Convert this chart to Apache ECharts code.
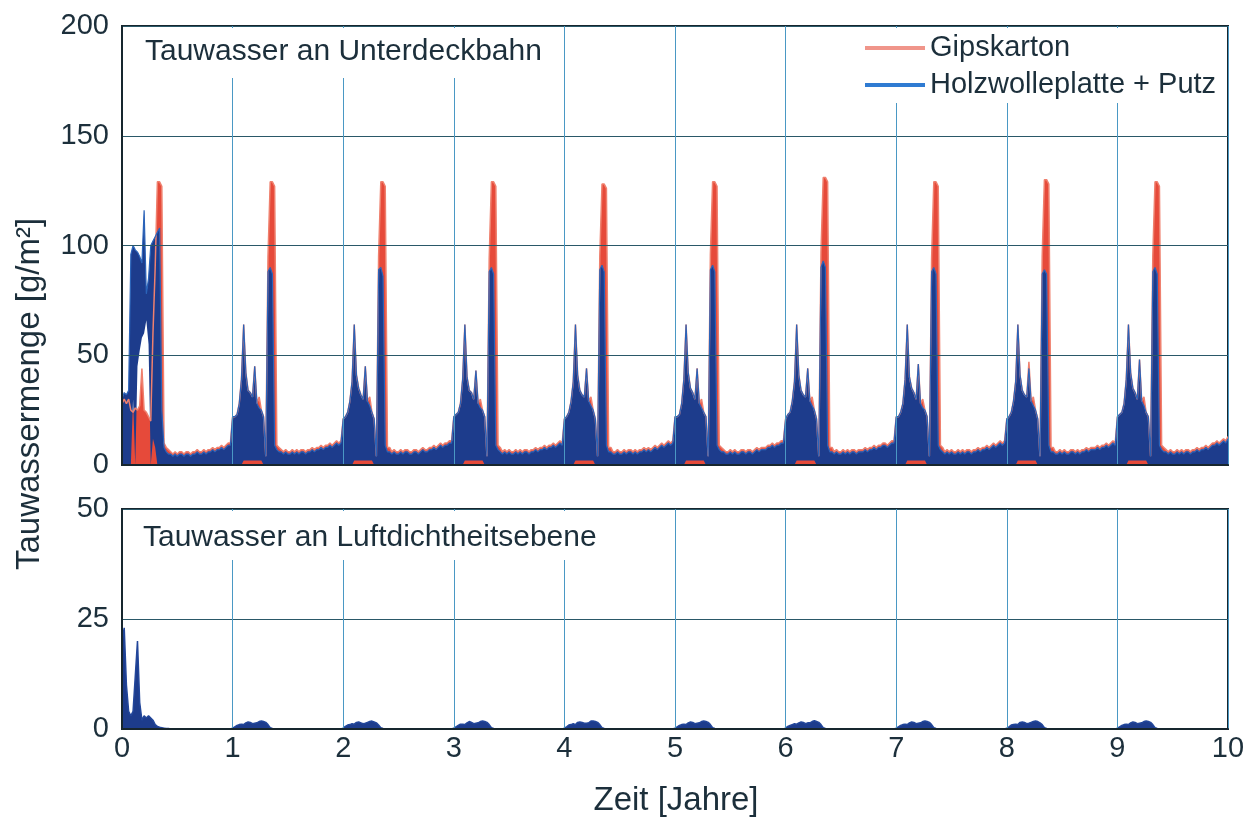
<!DOCTYPE html>
<html>
<head>
<meta charset="utf-8">
<script src="https://cdn.jsdelivr.net/npm/echarts@6/dist/echarts.min.js"></script>
<style>
html,body{margin:0;padding:0;background:#fff;}
#c{width:1259px;height:823px;}
</style>
</head>
<body>
<div id="c"></div>
<script>
// Sampling step of the time series (years); one sample every STEP from 0 to 10
const STEP = 0.02;
const SAMPLES_PER_YEAR = 50;

// Tauwasser an Unterdeckbahn – Gipskarton (upper envelope), two rows per year
const gipsHi = [
  28,30,28,30,25,24,26,25,27,44,25,24,22,20,60,90,129,129,127,10,
  8,7,6,5,6,5,6,6,5,6,6,5,6,6,7,6,6,7,6,7,7,8,7,8,8,9,8,9,10,10,
  22,22,23,28,39,64,42,34,33,31,45,28,31,25,22,4,95,129,129,127,
  9,8,7,6,7,6,6,7,6,7,6,7,7,6,7,7,8,7,8,8,9,8,9,9,10,9,10,11,10,11,
  21,22,24,29,38,64,41,35,32,30,45,29,31,24,21,4,95,129,129,127,
  8,8,6,7,6,6,7,6,7,7,6,6,7,7,6,7,8,7,7,8,8,9,8,9,10,9,10,10,11,11,
  22,23,24,28,39,64,40,34,33,30,43,28,30,25,22,4,94,129,129,127,
  9,8,6,7,6,7,6,6,7,6,7,6,7,7,6,7,7,8,7,8,8,9,8,9,9,10,9,10,11,10,
  21,22,24,29,38,64,41,34,32,31,44,29,31,25,21,4,95,128,128,126,
  8,8,6,6,7,6,6,7,6,7,7,6,7,6,7,7,8,7,8,7,8,9,8,9,10,9,10,11,10,11,
  22,22,23,28,39,64,42,35,33,30,44,28,30,24,22,4,96,129,129,127,
  9,8,7,6,6,7,6,7,6,6,7,7,6,7,7,6,7,8,7,8,8,8,9,9,10,9,10,10,11,11,
  21,23,24,29,38,64,41,34,32,31,44,29,31,25,21,4,97,131,131,129,
  8,8,6,7,6,6,7,6,7,6,7,7,6,7,7,7,8,7,8,8,9,8,9,9,10,10,9,10,11,11,
  22,22,24,28,39,64,40,35,33,30,46,28,30,25,22,4,94,129,129,127,
  9,8,6,7,6,7,6,6,7,6,7,6,7,7,6,7,7,8,7,8,8,9,8,9,10,9,10,11,10,11,
  21,22,24,29,38,64,41,34,32,31,47,29,31,25,21,4,95,130,130,128,
  8,8,6,6,7,6,7,6,6,7,7,6,7,6,7,7,8,7,8,8,8,9,8,9,9,10,9,10,11,10,
  22,23,24,28,39,64,42,35,33,30,48,29,31,24,22,4,95,129,129,127,
  9,8,7,6,7,6,6,7,6,7,6,7,7,6,7,7,8,7,8,8,9,8,9,10,10,11,10,11,12,11,
  13
];

// Tauwasser an Unterdeckbahn – Holzwolleplatte + Putz (upper envelope)
const holzHi = [
  30,33,32,34,96,100,98,97,95,92,116,78,85,100,102,104,106,108,25,8,
  6,5,5,4,5,4,5,5,4,5,5,4,5,5,6,5,5,6,5,6,6,7,6,7,7,8,7,8,9,9,
  22,22,23,28,39,64,42,34,33,31,45,28,26,25,22,4,88,90,87,9,
  7,6,6,5,6,5,5,6,5,6,5,6,6,5,6,6,7,6,7,7,8,7,8,8,9,8,9,10,9,10,
  21,22,24,29,38,64,41,35,32,30,45,29,27,24,21,4,89,90,86,9,
  6,6,5,6,5,5,6,5,6,6,5,5,6,6,5,6,7,6,6,7,7,8,7,8,9,8,9,9,10,10,
  22,23,24,28,39,64,40,34,33,30,43,28,26,25,22,4,88,90,87,9,
  7,6,5,6,5,6,5,5,6,5,6,5,6,6,5,6,6,7,6,7,7,8,7,8,8,9,8,9,10,9,
  21,22,24,29,38,64,41,34,32,31,44,29,27,25,21,4,89,91,88,9,
  6,6,5,5,6,5,5,6,5,6,6,5,6,5,6,6,7,6,7,6,7,8,7,8,9,8,9,10,9,10,
  22,22,23,28,39,64,42,35,33,30,44,28,26,24,22,4,89,91,88,9,
  7,6,6,5,5,6,5,6,5,5,6,6,5,6,6,5,6,7,6,7,7,7,8,8,9,8,9,9,10,10,
  21,23,24,29,38,64,41,34,32,31,44,29,27,25,21,4,90,93,90,9,
  6,6,5,6,5,5,6,5,6,5,6,6,5,6,6,6,7,6,7,7,8,7,8,8,9,9,8,9,10,10,
  22,22,24,28,39,64,40,35,33,30,46,28,26,25,22,4,88,90,87,9,
  7,6,5,6,5,6,5,5,6,5,6,5,6,6,5,6,6,7,6,7,7,8,7,8,9,8,9,10,9,10,
  21,22,24,29,38,64,41,34,32,31,44,29,27,25,21,4,87,89,87,9,
  6,6,5,5,6,5,6,5,5,6,6,5,6,5,6,6,7,6,7,7,7,8,7,8,8,9,8,9,10,9,
  22,23,24,28,39,64,42,35,33,30,48,29,27,24,22,4,88,90,87,9,
  7,6,6,5,6,5,5,6,5,6,5,6,6,5,6,6,7,6,7,7,8,7,8,9,9,10,9,10,11,10,
  12
];

// Holzwolleplatte + Putz (lower envelope of the dense trace)
const holzLo = [
  0,0,0,0,0,30,0,45,52,58,60,66,55,0,12,8,0,0,0,0,
  0,0,0,0,0,0,0,0,0,0,0,0,0,0,0,0,0,0,0,0,0,0,0,0,0,0,0,0,0,0,
  0,0,0,0,0,2,2,2,2,2,2,2,2,2,0,0,0,0,0,0,
  0,0,0,0,0,0,0,0,0,0,0,0,0,0,0,0,0,0,0,0,0,0,0,0,0,0,0,0,0,0,
  0,0,0,0,0,2,2,2,2,2,2,2,2,2,0,0,0,0,0,0,
  0,0,0,0,0,0,0,0,0,0,0,0,0,0,0,0,0,0,0,0,0,0,0,0,0,0,0,0,0,0,
  0,0,0,0,0,2,2,2,2,2,2,2,2,2,0,0,0,0,0,0,
  0,0,0,0,0,0,0,0,0,0,0,0,0,0,0,0,0,0,0,0,0,0,0,0,0,0,0,0,0,0,
  0,0,0,0,0,2,2,2,2,2,2,2,2,2,0,0,0,0,0,0,
  0,0,0,0,0,0,0,0,0,0,0,0,0,0,0,0,0,0,0,0,0,0,0,0,0,0,0,0,0,0,
  0,0,0,0,0,2,2,2,2,2,2,2,2,2,0,0,0,0,0,0,
  0,0,0,0,0,0,0,0,0,0,0,0,0,0,0,0,0,0,0,0,0,0,0,0,0,0,0,0,0,0,
  0,0,0,0,0,2,2,2,2,2,2,2,2,2,0,0,0,0,0,0,
  0,0,0,0,0,0,0,0,0,0,0,0,0,0,0,0,0,0,0,0,0,0,0,0,0,0,0,0,0,0,
  0,0,0,0,0,2,2,2,2,2,2,2,2,2,0,0,0,0,0,0,
  0,0,0,0,0,0,0,0,0,0,0,0,0,0,0,0,0,0,0,0,0,0,0,0,0,0,0,0,0,0,
  0,0,0,0,0,2,2,2,2,2,2,2,2,2,0,0,0,0,0,0,
  0,0,0,0,0,0,0,0,0,0,0,0,0,0,0,0,0,0,0,0,0,0,0,0,0,0,0,0,0,0,
  0,0,0,0,0,2,2,2,2,2,2,2,2,2,0,0,0,0,0,0,
  0,0,0,0,0,0,0,0,0,0,0,0,0,0,0,0,0,0,0,0,0,0,0,0,0,0,0,0,0,0,
  0
];

// Tauwasser an Luftdichtheitsebene – Holzwolleplatte + Putz
const luftHolz = [
  20,23,10,4,3,4,12,20,6,2,3,2.5,3,2.5,2,1,0.6,0.4,0.3,0.2,
  0.1,0.1,0,0,0,0,0,0,0,0,0,0,0,0,0,0,0,0,0,0,0,0,0,0,0,0,0,0,0,0,
  0.2,0.5,0.8,1,1.1,1,1.4,1.6,1.5,1.2,1.3,1.4,1.7,1.8,1.7,1.5,1,0.3,0.1,0,
  0,0,0,0,0,0,0,0,0,0,0,0,0,0,0,0,0,0,0,0,0,0,0,0,0,0,0,0,0,0,
  0.2,0.6,0.9,1,1.2,1.1,1.5,1.6,1.4,1.2,1.3,1.5,1.7,1.8,1.6,1.4,0.9,0.3,0.1,0,
  0,0,0,0,0,0,0,0,0,0,0,0,0,0,0,0,0,0,0,0,0,0,0,0,0,0,0,0,0,0,
  0.2,0.5,0.8,1.1,1.1,1,1.4,1.7,1.5,1.2,1.3,1.4,1.7,1.8,1.7,1.5,1,0.3,0.1,0,
  0,0,0,0,0,0,0,0,0,0,0,0,0,0,0,0,0,0,0,0,0,0,0,0,0,0,0,0,0,0,
  0.2,0.5,0.9,1,1.2,1,1.5,1.6,1.5,1.3,1.3,1.4,1.8,1.8,1.7,1.5,1,0.3,0.1,0,
  0,0,0,0,0,0,0,0,0,0,0,0,0,0,0,0,0,0,0,0,0,0,0,0,0,0,0,0,0,0,
  0.2,0.5,0.8,1,1.1,1,1.4,1.6,1.5,1.2,1.3,1.4,1.7,1.8,1.7,1.5,1,0.3,0.1,0,
  0,0,0,0,0,0,0,0,0,0,0,0,0,0,0,0,0,0,0,0,0,0,0,0,0,0,0,0,0,0,
  0.2,0.6,0.8,1,1.2,1.1,1.4,1.6,1.5,1.2,1.4,1.4,1.7,1.9,1.7,1.5,1,0.3,0.1,0,
  0,0,0,0,0,0,0,0,0,0,0,0,0,0,0,0,0,0,0,0,0,0,0,0,0,0,0,0,0,0,
  0.2,0.5,0.8,1,1.1,1,1.4,1.6,1.5,1.2,1.3,1.4,1.7,1.8,1.7,1.5,1,0.3,0.1,0,
  0,0,0,0,0,0,0,0,0,0,0,0,0,0,0,0,0,0,0,0,0,0,0,0,0,0,0,0,0,0,
  0.2,0.5,0.9,1,1.1,1,1.5,1.6,1.5,1.2,1.3,1.5,1.7,1.8,1.7,1.4,1,0.3,0.1,0,
  0,0,0,0,0,0,0,0,0,0,0,0,0,0,0,0,0,0,0,0,0,0,0,0,0,0,0,0,0,0,
  0.2,0.5,0.8,1,1.1,1,1.4,1.6,1.5,1.2,1.3,1.4,1.7,1.8,1.7,1.5,1,0.3,0.1,0,
  0,0,0,0,0,0,0,0,0,0,0,0,0,0,0,0,0,0,0,0,0,0,0,0,0,0,0,0,0,0,
  0
];

const FONT = '"Liberation Sans", Arial, sans-serif';
const TXT = '#1c2f3b';
const FRAME = '#17262e';

// time categories (years) for the sample positions
const times = holzHi.map((_, i) => (i * STEP).toFixed(2));
const isYear = idx => idx % SAMPLES_PER_YEAR === 0;
const holzBand = holzHi.map((v, i) => v - holzLo[i]);

const chart = echarts.init(document.getElementById('c'), null, {renderer: 'canvas'});

const xCommon = {
  type: 'category', data: times, boundaryGap: false, z: 3,
  axisTick: {show: false},
  axisLine: {show: true, lineStyle: {color: FRAME, width: 2}},
  splitLine: {show: true, interval: isYear, lineStyle: {color: '#4a98c4', width: 1}}
};
const yCommon = {
  type: 'value', min: 0, z: 3,
  axisTick: {show: false},
  axisLine: {show: true, lineStyle: {color: FRAME, width: 2}},
  splitLine: {show: true, lineStyle: {color: '#2a5868', width: 1.2}},
  axisLabel: {fontSize: 29, color: TXT, fontFamily: FONT, margin: 13}
};

chart.setOption({
  animation: false,
  backgroundColor: '#fff',
  grid: [
    {left: 122, right: 31, top: 26, height: 439, show: true, borderColor: FRAME, borderWidth: 2, outerBoundsMode: 'none'},
    {left: 122, right: 31, top: 509, height: 220, show: true, borderColor: FRAME, borderWidth: 2, outerBoundsMode: 'none'}
  ],
  xAxis: [
    Object.assign({}, xCommon, {gridIndex: 0, axisLabel: {show: false}}),
    Object.assign({}, xCommon, {gridIndex: 1, axisLabel: {
      show: true, interval: isYear, fontSize: 29, color: TXT, fontFamily: FONT, margin: 5,
      formatter: v => String(Math.round(parseFloat(v)))
    }})
  ],
  yAxis: [
    Object.assign({}, yCommon, {gridIndex: 0, max: 200, interval: 50}),
    Object.assign({}, yCommon, {gridIndex: 1, max: 50, interval: 25})
  ],
  title: [
    {text: 'Tauwasser an Unterdeckbahn', left: 124, top: 28, padding: [9, 20, 11, 21], backgroundColor: '#fff',
     textStyle: {fontSize: 30, fontWeight: 'normal', color: TXT, fontFamily: FONT, lineHeight: 30}},
    {text: 'Tauwasser an Luftdichtheitsebene', left: 124, top: 511, padding: [12, 10, 7, 19], backgroundColor: '#fff',
     textStyle: {fontSize: 30, fontWeight: 'normal', color: TXT, fontFamily: FONT, lineHeight: 30}}
  ],
  legend: {
    orient: 'vertical', left: 852, top: 28, padding: [5, 3, 3, 13], backgroundColor: '#fff',
    icon: 'rect', itemWidth: 60, itemHeight: 4, itemGap: 7, itemTextGap: 17,
    textStyle: {fontSize: 29, color: TXT, fontFamily: FONT, lineHeight: 30},
    data: [
      {name: 'Gipskarton', itemStyle: {color: '#f0958a'}},
      {name: 'Holzwolleplatte + Putz', itemStyle: {color: '#2f7bd2'}}
    ]
  },
  graphic: [
    {type: 'text', x: 676, y: 801, style: {text: 'Zeit [Jahre]', fontSize: 33, fontFamily: FONT, fill: TXT, textAlign: 'center', textVerticalAlign: 'middle'}},
    {type: 'text', x: 30, y: 394, rotation: Math.PI / 2, style: {text: 'Tauwassermenge [g/m²]', fontSize: 33, fontFamily: FONT, fill: TXT, textAlign: 'center', textVerticalAlign: 'middle'}}
  ],
  series: [
    {type: 'line', name: 'Gipskarton', xAxisIndex: 0, yAxisIndex: 0, data: gipsHi, symbol: 'none', z: 2,
     lineStyle: {color: '#ef806e', width: 1.5}, itemStyle: {color: '#ef806e'}, areaStyle: {color: '#e64a3a', opacity: 1}},
    {type: 'line', name: 'holzLo', xAxisIndex: 0, yAxisIndex: 0, data: holzLo, stack: 'holz', symbol: 'none', silent: true, z: 2,
     lineStyle: {width: 0, opacity: 0}},
    {type: 'line', name: 'Holzwolleplatte + Putz', xAxisIndex: 0, yAxisIndex: 0, data: holzBand, stack: 'holz', symbol: 'none', z: 2,
     lineStyle: {color: '#2a63b9', width: 1.2}, itemStyle: {color: '#2a63b9'}, areaStyle: {color: '#1d3c8c', opacity: 1}},
    {type: 'line', name: 'Holzwolleplatte + Putz', xAxisIndex: 1, yAxisIndex: 1, data: luftHolz, symbol: 'none', z: 2,
     lineStyle: {color: '#22469a', width: 1.5}, itemStyle: {color: '#22469a'}, areaStyle: {color: '#1d3c8c', opacity: 1}}
  ]
});
</script>
</body>
</html>
